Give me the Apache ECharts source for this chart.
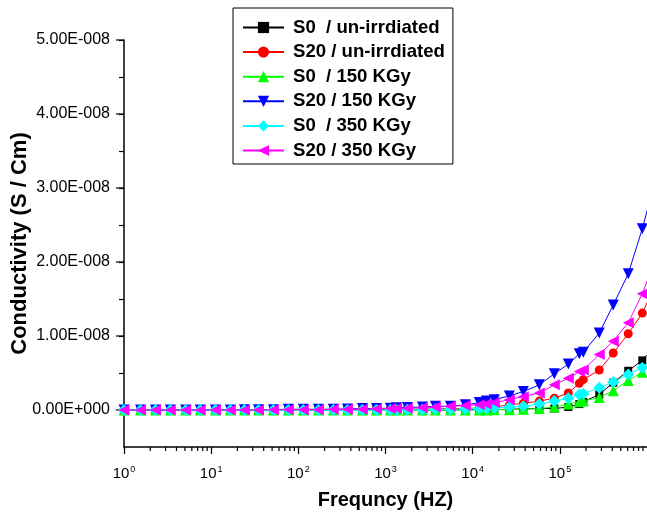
<!DOCTYPE html>
<html>
<head>
<meta charset="utf-8">
<script src="https://cdn.jsdelivr.net/npm/echarts@6/dist/echarts.min.js"></script>
<style>
html,body{margin:0;padding:0;background:#fff;}
#chart{width:647px;height:515px;}
</style>
</head>
<body>
<div id="chart"></div>
<script>
// Frequencies (Hz)
var freq = [1, 1.55, 2.3, 3.4, 5.1, 7.5, 11.2, 16.6, 24.1, 34.9, 51.8, 76.9, 114, 170, 252, 366, 543, 787,
  1138, 1334, 1782, 2649, 3733, 5546, 8241, 11920, 14350, 17730, 26370, 38140, 58180, 86470,
  125100, 167200, 185800, 283400, 410000, 609200, 883100, 1312000];

// Conductivity values in units of 1e-8 S/Cm
var s0Unirr = [0,0,0,0,0,0,0,0,0,0,0,0,0,0,0,0,0,0,
  0,0,0,0,0,0,0.005,0.005,0.005,0.005,0.01,0.015,0.02,0.02,
  0.04,0.08,0.11,0.21,0.37,0.53,0.67,0.9];
var s20Unirr = [0,0,0,0,0,0,0,0,0,0,0,0,0,0,0.005,0.005,0.005,0.01,
  0.01,0.01,0.01,0.015,0.015,0.02,0.02,0.03,0.03,0.04,0.07,0.09,0.12,0.16,
  0.23,0.36,0.41,0.54,0.77,1.03,1.31,1.75];
var s0_150 = [0,0,0,0,0,0,0,0,0,0,0,0,0,0,0,0,0,0,
  0,0,0,0,0,0,0,0,0,0.005,0.005,0.01,0.02,0.04,
  0.08,0.11,0.12,0.17,0.26,0.40,0.51,0.7];
var s20_150 = [0,0,0,0,0,0,0,0,0.005,0.005,0.005,0.01,0.01,0.01,0.01,0.015,0.02,0.02,
  0.025,0.03,0.035,0.04,0.05,0.05,0.07,0.10,0.12,0.14,0.19,0.25,0.34,0.49,
  0.62,0.76,0.78,1.04,1.42,1.84,2.45,3.2];
var s0_350 = [0,0,0,0,0,0,0,0,0,0,0,0,0,0,0,0,0,0,
  0,0,0.005,0.005,0.01,0.01,0.015,0.02,0.02,0.03,0.04,0.05,0.08,0.12,
  0.16,0.21,0.22,0.30,0.38,0.48,0.57,0.75];
var s20_350 = [0,0,0,0,0,0,0,0,0,0,0.005,0.005,0.005,0.005,0.01,0.01,0.01,0.015,
  0.02,0.02,0.025,0.03,0.04,0.05,0.06,0.07,0.08,0.10,0.14,0.18,0.23,0.34,
  0.43,0.52,0.54,0.75,0.93,1.18,1.57,2.1];

var seriesNames = ['S0  / un-irrdiated', 'S20 / un-irrdiated', 'S0  / 150 KGy', 'S20 / 150 KGy', 'S0  / 350 KGy', 'S20 / 350 KGy'];
var seriesValues = [s0Unirr, s20Unirr, s0_150, s20_150, s0_350, s20_350];
var seriesColors = ['#000000', '#ff0000', '#00ff00', '#0000ff', '#00ffff', '#ff00ff'];
var seriesSymbols = ['rect', 'circle', 'triangle', 'triangle', 'diamond', 'triangle'];
var seriesRotate = [0, 0, 0, 180, 0, 90];
var seriesSizes = [8, 9, 11, 11, 12, 11];

// axis tick positions
var xMinorTicks = [];
[1, 10, 100, 1000, 10000, 100000].forEach(function (d) {
  for (var m = 2; m <= 9; m++) xMinorTicks.push(m * d);
});
var yMajorTicks = [0, 1e-8, 2e-8, 3e-8, 4e-8, 5e-8];

function sciLabel(v) {
  if (Math.abs(v) < 1e-20) return '0.00E+000';
  var e = Math.floor(Math.log10(Math.abs(v)) + 1e-9);
  var m = v / Math.pow(10, e);
  return m.toFixed(2) + 'E' + (e < 0 ? '-' : '+') + String(Math.abs(e)).padStart(3, '0');
}
function isMajorY(v) {
  var r = v / 1e-8;
  return Math.abs(r - Math.round(r)) < 1e-6;
}

var chart = echarts.init(document.getElementById('chart'));

var series = seriesNames.map(function (name, i) {
  return {
    name: name,
    type: 'line',
    data: freq.map(function (f, j) { return [f, seriesValues[i][j] * 1e-8]; }),
    symbol: seriesSymbols[i],
    symbolRotate: seriesRotate[i],
    symbolSize: seriesSizes[i],
    showAllSymbol: true,
    lineStyle: { color: seriesColors[i], width: 1 },
    itemStyle: { color: seriesColors[i] },
    z: 2 + i,
    animation: false
  };
});

// x minor ticks (2..9 per decade)
series.push({
  type: 'custom',
  silent: true,
  clip: false,
  animation: false,
  data: xMinorTicks.map(function (v) { return [v, -5e-9]; }),
  renderItem: function (params, api) {
    var p = api.coord([api.value(0), api.value(1)]);
    return { type: 'line', shape: { x1: p[0], y1: p[1], x2: p[0], y2: p[1] + 4 }, style: { stroke: '#000', lineWidth: 1.2 } };
  }
});
// y major ticks (longer)
series.push({
  type: 'custom',
  silent: true,
  clip: false,
  animation: false,
  data: yMajorTicks.map(function (v) { return [1, v]; }),
  renderItem: function (params, api) {
    var p = api.coord([api.value(0), api.value(1)]);
    return { type: 'line', shape: { x1: p[0] - 8, y1: p[1], x2: p[0], y2: p[1] }, style: { stroke: '#000', lineWidth: 1.2 } };
  }
});

chart.setOption({
  backgroundColor: '#ffffff',
  animation: false,
  grid: { left: 124, top: 40, right: 0, bottom: 68, containLabel: false, outerBoundsMode: 'none' },
  legend: {
    data: seriesNames,
    orient: 'vertical',
    left: 233,
    top: 8,
    padding: [10, 8, 4, 9],
    itemWidth: 41,
    itemHeight: 14,
    itemGap: 5.6,
    borderColor: '#000',
    borderWidth: 1,
    backgroundColor: '#fff',
    textStyle: { fontFamily: 'Liberation Sans, Arial, sans-serif', fontWeight: 'bold', fontSize: 18.6, color: '#000', lineHeight: 18, padding: [0, 0, 0, 4] }
  },
  xAxis: {
    type: 'log',
    logBase: 10,
    min: 1,
    max: 1e6,
    name: 'Frequncy (HZ)',
    nameLocation: 'middle',
    nameGap: 43,
    nameMoveOverlap: false,
    nameTextStyle: { fontFamily: 'Liberation Sans, Arial, sans-serif', fontWeight: 'bold', fontSize: 20, color: '#000' },
    axisLine: { onZero: false, lineStyle: { color: '#000', width: 1.5 } },
    axisTick: { show: true, inside: false, length: 7, lineStyle: { color: '#000', width: 1.2 } },
    minorTick: { show: false },
    splitLine: { show: false },
    axisLabel: {
      showMaxLabel: false,
      margin: 18,
      color: '#000',
      fontFamily: 'Liberation Sans, Arial, sans-serif',
      formatter: function (v) {
        var e = Math.round(Math.log10(v));
        return '{b|10}{s|' + e + '}';
      },
      rich: {
        b: { fontSize: 15, color: '#000', fontFamily: 'Liberation Sans, Arial, sans-serif' },
        s: { fontSize: 9, color: '#000', fontFamily: 'Liberation Sans, Arial, sans-serif', padding: [0, 0, 9, 1] }
      }
    }
  },
  yAxis: {
    type: 'value',
    min: -5e-9,
    max: 5e-8,
    interval: 5e-9,
    name: 'Conductivity (S / Cm)',
    nameLocation: 'middle',
    nameGap: 93,
    nameMoveOverlap: false,
    nameTextStyle: { fontFamily: 'Liberation Sans, Arial, sans-serif', fontWeight: 'bold', fontSize: 22, color: '#000' },
    axisLine: { show: true, onZero: false, lineStyle: { color: '#000', width: 1.5 } },
    axisTick: { show: true, inside: false, length: 5, lineStyle: { color: '#000', width: 1.2 } },
    minorTick: { show: false },
    splitLine: { show: false },
    axisLabel: {
      showMinLabel: false,
      margin: 14,
      fontSize: 16,
      color: '#000',
      fontFamily: 'Liberation Sans, Arial, sans-serif',
      formatter: function (v) { return isMajorY(v) ? sciLabel(v) : ''; }
    }
  },
  series: series
});
</script>
</body>
</html>
